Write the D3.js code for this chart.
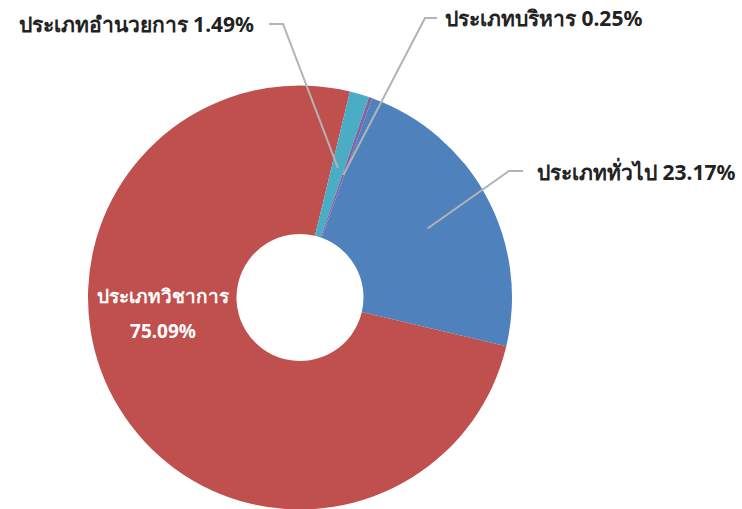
<!DOCTYPE html>
<html>
<head>
<meta charset="utf-8">
<script src="https://cdn.jsdelivr.net/npm/d3@7"></script>
<style>
  body { margin: 0; background: #fff; }
  text { font-family: "Noto Sans", "DejaVu Sans", sans-serif; font-weight: bold; }
</style>
</head>
<body>
<div id="chart"></div>
<script>
// data, in drawing order (clockwise)
let categories = ["ประเภททั่วไป", "ประเภทวิชาการ", "ประเภทอำนวยการ", "ประเภทบริหาร"];
let values = [23.17, 75.09, 1.49, 0.25];
let colors = ["#4F81BD", "#C0504D", "#4BACC6", "#8064A2"];

let width = 742;
let height = 509;
let cx = 300, cy = 297.5;
let radius = 212;
let hole = 63.5;

let svg = d3.select("#chart").append("svg")
  .attr("width", width)
  .attr("height", height);

let g = svg.append("g")
  .attr("transform", "translate(" + cx + "," + cy + ")");

let start = 19.9 * Math.PI / 180;
let pie = d3.pie().sort(null)
  .startAngle(start)
  .endAngle(start + 2 * Math.PI);

let arc = d3.arc().innerRadius(hole).outerRadius(radius);

let arcs = pie(values);

g.selectAll("path.slice")
  .data(arcs)
  .enter().append("path")
  .attr("class", "slice")
  .attr("d", arc)
  .attr("fill", function(d, i) { return colors[i]; });

// point on slice middle at given radius
function pt(d, r) {
  let a = (d.startAngle + d.endAngle) / 2;
  return [Math.sin(a) * r, -Math.cos(a) * r];
}

// outside labels
let callouts = [
  { i: 0, r: 145, ex: 509 - cx, ey: 171 - cy, tx: 523 - cx, lx: 537 - cx, ly: 180 - cy, anchor: "start" },
  { i: 2, r: 135, ex: 283 - cx, ey: 24 - cy, tx: 269 - cx, lx: 254 - cx, ly: 32 - cy, anchor: "end" },
  { i: 3, r: 130, ex: 425 - cx, ey: 18 - cy, tx: 437 - cx, lx: 445 - cx, ly: 26 - cy, anchor: "start" }
];

callouts.forEach(function(c) {
  let d = arcs[c.i];
  let p = pt(d, c.r);
  g.append("polyline")
    .attr("points", [p, [c.ex, c.ey], [c.tx, c.ey]].map(function(q) { return q.join(","); }).join(" "))
    .attr("fill", "none")
    .attr("stroke", "#B3B3B3")
    .attr("stroke-width", 2);
  g.append("text")
    .attr("x", c.lx)
    .attr("y", c.ly)
    .attr("text-anchor", c.anchor)
    .attr("font-size", 21)
    .attr("fill", "#222")
    .text(categories[c.i] + " " + values[c.i].toFixed(2) + "%");
});

// inside label for the big slice
let big = g.append("text")
  .attr("text-anchor", "middle")
  .attr("font-size", 19)
  .attr("fill", "#fff");
big.append("tspan")
  .attr("x", 163 - cx)
  .attr("y", 303 - cy)
  .text(categories[1]);
big.append("tspan")
  .attr("x", 163 - cx)
  .attr("y", 338 - cy)
  .text(values[1].toFixed(2) + "%");
</script>
</body>
</html>
